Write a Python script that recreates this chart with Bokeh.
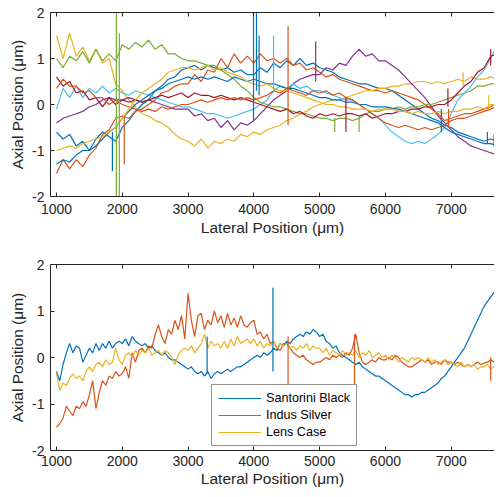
from bokeh.plotting import figure
from bokeh.models import Range1d, LinearAxis, FixedTicker, Legend, LegendItem
from bokeh.layouts import column
from bokeh.embed import file_html
from bokeh.resources import INLINE

# ---------------- data ----------------
X_TICKS = [1000, 2000, 3000, 4000, 5000, 6000, 7000]
Y_TICKS = [-2, -1, 0, 1, 2]
Y_TICK_LABELS = {-2: "-2", -1: "-1", 0: "0", 1: "1", 2: "2"}

X_TOP = list(range(1000, 7801, 100))

TOP_BLUE_1 = [
    -0.6, -0.75, -0.65, -0.9, -0.8, -1.0, -0.75, -0.6, -0.7, -0.8,
    -0.5, -0.35, -0.15, 0.0, 0.1, 0.3, 0.4, 0.55, 0.6, 0.75,
    0.8, 0.85, 0.75, 0.85, 0.8, 0.75, 0.8, 0.7, 0.75, 0.65,
    0.65, 0.8, 0.7, 0.9, 0.8, 0.95, 0.85, 1.0, 0.85, 0.9,
    0.8, 0.75, 0.7, 0.6, 0.55, 0.5, 0.45, 0.45, 0.4, 0.35,
    0.35, 0.3, 0.2, 0.1, 0.0, -0.1, -0.2, -0.3, -0.35, -0.45,
    -0.5, -0.6, -0.65, -0.7, -0.75, -0.8, -0.75, -0.8, -0.8]
TOP_ORANGE_1 = [
    -1.5, -1.2, -1.4, -1.2, -1.35, -1.1, -0.95, -0.65, -0.55, -0.3,
    -0.25, -0.3, -0.15, -0.1, 0.0, 0.1, 0.25, 0.3, 0.4, 0.45,
    0.45, 0.65, 0.5, 0.75, 0.7, 1.0, 0.8, 1.1, 0.9, 1.05,
    0.9, 1.1, 0.95, 1.0, 0.9, 1.0, 0.85, 0.9, 0.75, 0.8,
    0.7, 0.6, 0.65, 0.55, 0.5, 0.45, 0.4, 0.35, 0.3, 0.3,
    0.25, 0.3, 0.25, 0.2, 0.15, 0.1, 0.0, -0.1, -0.2, -0.35,
    -0.3, -0.25, -0.2, -0.2, -0.15, -0.1, -0.05, 0.05, 0.1]
TOP_YELLOW_1 = [
    1.5, 1.0, 1.55, 1.05, 1.25, 0.95, 1.2, 0.9, 1.0, 0.45,
    0.3, 0.1, -0.05, -0.2, -0.25, -0.35, -0.4, -0.5, -0.65, -0.75,
    -0.8, -0.9, -0.75, -0.95, -0.8, -0.85, -0.75, -0.8, -0.65, -0.7,
    -0.6, -0.65, -0.55, -0.5, -0.45, -0.35, -0.3, -0.2, -0.15, -0.05,
    0.0, 0.05, 0.1, 0.1, 0.15, 0.2, 0.25, 0.3, 0.3, 0.35,
    0.35, 0.4, 0.4, 0.45, 0.45, 0.5, 0.5, 0.45, 0.5, 0.45,
    0.5, 0.55, 0.5, 0.6, 0.55, 0.55, 0.6, 0.55, 0.6]
TOP_PURPLE = [
    -0.4, -0.3, -0.25, -0.2, -0.15, -0.05, 0.0, 0.1, 0.15, 0.1,
    0.1, 0.15, 0.1, 0.05, 0.1, 0.05, 0.0, -0.05, -0.1, -0.1,
    -0.1, -0.25, -0.2, -0.35, -0.3, -0.5, -0.35, -0.55, -0.4, -0.45,
    -0.35, -0.2, -0.05, 0.1, 0.2, 0.3, 0.45, 0.55, 0.6, 0.65,
    0.65, 0.8, 0.75, 0.9, 0.85, 1.05, 1.2, 1.05, 1.1, 0.95,
    0.95, 0.85, 0.75, 0.6, 0.45, 0.3, 0.15, -0.05, -0.25, -0.4,
    -0.55, -0.7, -0.8, -0.9, -0.95, -1.0, -1.05, -1.1, -1.1]
TOP_GREEN = [
    1.0, 0.8, 1.05, 0.95, 1.15, 0.9, 1.2, 0.95, 1.1, 0.95,
    1.3, 1.2, 1.35, 1.25, 1.4, 1.2, 1.3, 1.1, 1.1, 1.0,
    0.95, 0.95, 0.9, 0.85, 0.85, 0.75, 0.65, 0.55, 0.4, 0.3,
    0.15, 0.05, 0.0, -0.05, -0.05, -0.1, -0.15, -0.2, -0.2, -0.25,
    -0.3, -0.3, -0.35, -0.3, -0.3, -0.35, -0.3, -0.2, -0.15, -0.15,
    -0.1, -0.1, -0.05, -0.1, -0.05, -0.05, 0.0, 0.0, 0.05, 0.1,
    0.15, 0.2, 0.25, 0.3, 0.4, 0.4, 0.45, 0.45, 0.5]
TOP_LIGHTBLUE = [
    -0.1, 0.35, 0.15, 0.4, 0.15, 0.35, 0.25, 0.4, 0.25, 0.35,
    0.25, 0.2, 0.3, 0.25, 0.2, 0.15, 0.1, 0.05, 0.0, -0.05,
    -0.05, -0.1, -0.15, -0.2, -0.2, -0.25, -0.3, -0.25, -0.2, -0.15,
    -0.1, 0.0, 0.1, 0.3, 0.4, 0.35, 0.45, 0.35, 0.4, 0.3,
    0.3, 0.25, 0.2, 0.15, 0.1, 0.1, 0.0, -0.1, -0.2, -0.3,
    -0.45, -0.6, -0.7, -0.8, -0.85, -0.8, -0.85, -0.75, -0.65, -0.5,
    -0.2, 0.1, 0.25, 0.4, 0.6, 0.75, 1.0, 1.3, 1.6]
TOP_DARKRED = [
    0.6, 0.4, 0.5, 0.25, 0.3, 0.1, 0.15, -0.05, 0.15, 0.0,
    0.1, 0.05, 0.1, 0.05, 0.1, 0.15, 0.2, 0.15, 0.2, 0.25,
    0.15, 0.25, 0.2, 0.2, 0.15, 0.2, 0.15, 0.1, 0.15, 0.1,
    0.05, 0.0, -0.05, -0.1, -0.15, -0.1, -0.2, -0.15, -0.25, -0.3,
    -0.2, -0.25, -0.2, -0.25, -0.2, -0.2, -0.25, -0.2, -0.3, -0.25,
    -0.2, -0.2, -0.15, -0.15, -0.1, -0.1, -0.05, -0.05, 0.0, 0.0,
    0.1, 0.25, 0.4, 0.5, 0.7, 0.8, 1.05, 1.1, 1.1]
TOP_BLUE_2 = [
    -1.3, -1.2, -1.25, -1.1, -1.0, -1.0, -0.9, -0.75, -0.6, -0.5,
    -0.3, -0.15, 0.0, 0.1, 0.2, 0.3, 0.35, 0.45, 0.5, 0.55,
    0.6, 0.55, 0.6, 0.55, 0.6, 0.55, 0.5, 0.6, 0.55, 0.5,
    0.55, 0.5, 0.45, 0.45, 0.4, 0.35, 0.35, 0.3, 0.25, 0.2,
    0.15, 0.15, 0.1, 0.1, 0.05, 0.05, 0.0, 0.0, -0.05, -0.05,
    -0.05, -0.08, -0.1, -0.15, -0.2, -0.25, -0.3, -0.35, -0.4, -0.5,
    -0.6, -0.65, -0.7, -0.75, -0.8, -0.85, -0.85, -0.9, -0.9]
TOP_ORANGE_2 = [
    0.35, 0.55, 0.4, 0.4, 0.25, 0.3, 0.15, 0.15, 0.0, 0.1,
    0.0, -0.05, -0.1, -0.15, -0.1, -0.15, -0.05, -0.1, -0.05, 0.0,
    0.0, 0.05, 0.1, 0.05, 0.1, 0.15, 0.1, 0.15, 0.1, 0.15,
    0.1, 0.15, 0.2, 0.3, 0.25, 0.35, 0.3, 0.25, 0.2, 0.3,
    0.25, 0.3, 0.2, 0.25, 0.15, 0.1, 0.0, -0.1, -0.2, -0.3,
    -0.4, -0.45, -0.5, -0.45, -0.5, -0.55, -0.5, -0.55, -0.5, -0.45,
    -0.35, -0.3, -0.3, -0.25, -0.2, -0.15, -0.1, -0.05, -0.05]
TOP_YELLOW_2 = [
    -1.0, -0.95, -0.9, -0.95, -0.85, -0.8, -0.75, -0.7, -0.6, -0.5,
    -0.3, -0.1, 0.1, 0.25, 0.35, 0.45, 0.55, 0.7, 0.75, 0.8,
    0.8, 0.75, 0.8, 0.85, 0.75, 0.8, 0.7, 0.65, 0.6, 0.5,
    0.45, 0.4, 0.45, 0.35, 0.3, 0.3, 0.25, 0.2, 0.15, 0.1,
    0.05, 0.0, 0.0, -0.05, -0.05, -0.1, -0.1, -0.1, -0.15, -0.1,
    -0.1, -0.1, -0.15, -0.15, -0.2, -0.15, -0.2, -0.2, -0.15, -0.2,
    -0.15, -0.15, -0.1, -0.1, -0.05, -0.1, 0.0, 0.0, 0.05]

TOP_SERIES = ["blue1", "orange1", "yellow1", "purple", "green",
              "lightblue", "darkred", "blue2", "orange2", "yellow2"]
TOP_VALUES = [TOP_BLUE_1, TOP_ORANGE_1, TOP_YELLOW_1, TOP_PURPLE, TOP_GREEN,
              TOP_LIGHTBLUE, TOP_DARKRED, TOP_BLUE_2, TOP_ORANGE_2, TOP_YELLOW_2]

# isolated spikes (x, from, to, series)
TOP_SPIKE_X = [1850, 1910, 1955, 2030, 3995, 4040, 4080, 4300, 4520, 4940,
               5230, 5400, 5600, 6850, 6950, 6960, 7180, 7570, 7600, 7550, 7650]
TOP_SPIKE_Y0 = [-0.6, -2.1, -2.1, -0.25, -0.35, 0.3, 0.2, 0.25, -0.45, 0.5,
                -0.3, -0.6, -0.25, -0.1, -0.05, -0.1, 0.4, -0.1, 0.85, -0.85, -0.9]
TOP_SPIKE_Y1 = [-1.45, 2.1, 1.55, -1.3, 2.1, 2.1, 1.5, 1.5, 1.7, 1.37,
                -0.6, 0.15, -0.6, -0.6, 0.35, -0.5, 0.7, 0.2, 1.2, -0.6, -0.65]
TOP_SPIKE_SERIES = ["blue1", "green", "green", "orange1", "blue1", "blue1", "blue1",
                    "lightblue", "orange1", "purple", "green", "darkred", "green",
                    "blue2", "darkred", "orange2", "yellow1", "yellow2", "darkred",
                    "blue1", "blue2"]

X_BOT = list(range(1000, 7801, 50))
BOT_NAMES = ["Santorini Black", "Indus Silver", "Lens Case"]
SANTORINI_BLACK = [
    -0.3, -0.5, -0.15, 0.1, 0.3, 0.1, 0.25, 0.2, -0.1, 0.05,
    0.2, 0.1, 0.3, 0.15, 0.3, 0.2, 0.35, 0.2, 0.3, 0.35,
    0.3, 0.4, 0.25, 0.45, 0.35, 0.3, 0.25, 0.3, 0.2, 0.25,
    0.15, 0.1, 0.05, 0.1, 0.0, -0.05, -0.05, -0.1, -0.15, -0.2,
    -0.25, -0.2, -0.3, -0.35, -0.3, -0.4, -0.3, -0.45, -0.35, -0.3,
    -0.35, -0.3, -0.25, -0.3, -0.25, -0.2, -0.2, -0.15, -0.1, -0.05,
    0.0, 0.05, 0.0, 0.1, 0.05, 0.1, 0.2, 0.15, 0.3, 0.25,
    0.35, 0.3, 0.4, 0.45, 0.5, 0.45, 0.55, 0.5, 0.6, 0.55,
    0.45, 0.5, 0.35, 0.3, 0.2, 0.25, 0.1, 0.05, 0.0, -0.05,
    -0.1, -0.15, -0.1, -0.2, -0.25, -0.3, -0.35, -0.4, -0.4, -0.45,
    -0.5, -0.55, -0.6, -0.65, -0.7, -0.75, -0.8, -0.8, -0.85, -0.8,
    -0.8, -0.75, -0.75, -0.7, -0.65, -0.6, -0.55, -0.45, -0.4, -0.3,
    -0.2, -0.1, 0.0, 0.1, 0.2, 0.35, 0.5, 0.65, 0.8, 0.95,
    1.1, 1.2, 1.3, 1.4, 1.47, 1.55, 1.6]
INDUS_SILVER = [
    -1.5, -1.42, -1.3, -1.05, -1.15, -1.25, -1.05, -1.1, -0.95, -1.05,
    -0.8, -0.5, -1.1, -0.75, -0.5, -0.6, -0.4, -0.45, -0.3, -0.4,
    -0.35, -0.2, -0.45, 0.1, -0.1, 0.15, 0.2, 0.1, 0.25, 0.2,
    0.5, 0.7, 0.45, 0.3, 0.6, 0.5, 0.8, 0.6, 0.9, 0.4,
    1.38, 0.8, 0.45, 0.9, 0.95, 0.6, 0.8, 0.7, 1.0, 0.75,
    0.9, 0.65, 0.95, 0.7, 0.85, 0.65, 0.9, 0.7, 0.65, 0.75,
    0.8, 0.5, 0.55, 0.4, 0.5, 0.3, 0.35, 0.2, 0.15, 0.3,
    0.3, 0.2, 0.1, 0.05, 0.0, 0.05, -0.05, -0.1, -0.15, -0.1,
    -0.1, -0.05, 0.0, -0.05, 0.05, 0.0, 0.05, 0.0, 0.1, 0.05,
    0.2, 0.5, 0.1, -0.1, -0.15, -0.1, -0.05, -0.1, 0.0, -0.05,
    -0.05, 0.0, -0.05, 0.05, 0.0, -0.1, -0.15, -0.2, -0.2, -0.15,
    -0.1, -0.05, -0.1, -0.05, -0.15, -0.1, -0.1, -0.15, -0.05, -0.1,
    -0.1, -0.15, -0.1, -0.15, -0.2, -0.15, -0.2, -0.15, -0.1, -0.15,
    -0.12, -0.1, -0.05, -0.1, -0.05, -0.1, -0.05]
LENS_CASE = [
    -0.35, -0.7, -0.55, -0.6, -0.45, -0.35, -0.45, -0.4, -0.5, -0.3,
    -0.2, -0.3, -0.15, -0.1, -0.2, -0.05, -0.15, -0.1, 0.2, -0.05,
    -0.15, 0.05, 0.1, 0.0, 0.15, 0.05, 0.15, 0.1, 0.2, 0.05,
    0.1, 0.15, 0.05, 0.15, 0.1, 0.0, -0.15, 0.05, 0.15, 0.2,
    0.15, 0.25, 0.1, 0.2, 0.3, 0.5, 0.2, 0.35, 0.25, 0.3,
    0.2, 0.35, 0.2, 0.4, 0.25, 0.45, 0.3, 0.35, 0.4, 0.3,
    0.4, 0.25, 0.35, 0.2, 0.3, 0.25, 0.35, 0.2, 0.3, 0.25,
    0.3, 0.2, 0.25, 0.15, 0.25, 0.2, 0.3, 0.15, 0.25, 0.2,
    0.2, 0.1, 0.2, 0.05, 0.15, 0.1, 0.05, 0.15, 0.05, 0.1,
    0.05, 0.15, 0.0, 0.1, 0.05, 0.15, 0.0, 0.05, 0.1, 0.0,
    0.05, -0.05, 0.05, 0.0, -0.1, 0.0, -0.05, -0.1, 0.0, -0.05,
    0.0, -0.05, -0.1, 0.0, -0.1, -0.05, -0.15, -0.1, -0.05, -0.15,
    -0.1, -0.15, -0.2, -0.1, -0.2, -0.15, -0.2, -0.15, -0.25, -0.2,
    -0.2, -0.15, -0.25, -0.2, -0.2, -0.15, -0.2]
BOT_VALUES = [SANTORINI_BLACK, INDUS_SILVER, LENS_CASE]

BOT_SPIKE_X = [3290, 4290, 4520, 5530, 7600]
BOT_SPIKE_Y0 = [-0.35, -0.3, 0.45, 0.5, 0.0]
BOT_SPIKE_Y1 = [0.45, 1.5, -0.63, -0.7, -0.5]
BOT_SPIKE_SERIES = ["Santorini Black", "Santorini Black", "Indus Silver",
                    "Indus Silver", "Indus Silver"]

for s in TOP_VALUES:
    assert len(s) == len(X_TOP), len(s)
for s in BOT_VALUES:
    assert len(s) == len(X_BOT), len(s)

# ---------------- style ----------------
C_BLUE, C_ORANGE, C_YELLOW = "#0072BD", "#D95319", "#EDB120"
C_PURPLE, C_GREEN, C_LBLUE, C_DRED = "#7E2F8E", "#77AC30", "#4DBEEE", "#A2142F"
TOP_COLORS = {"blue1": C_BLUE, "orange1": C_ORANGE, "yellow1": C_YELLOW,
              "purple": C_PURPLE, "green": C_GREEN, "lightblue": C_LBLUE,
              "darkred": C_DRED, "blue2": C_BLUE, "orange2": C_ORANGE,
              "yellow2": C_YELLOW}
BOT_COLORS = {"Santorini Black": C_BLUE, "Indus Silver": C_ORANGE,
              "Lens Case": C_YELLOW}
FONT = "Liberation Sans"
AX = "#262626"
LW = 1.2


def make_fig(height, border_top, border_bottom, tick_standoff, title_standoff):
    p = figure(width=494, height=height, output_backend="svg", toolbar_location=None,
               x_range=Range1d(909, 7658), y_range=Range1d(-2, 2),
               min_border_left=50, min_border_right=0,
               min_border_top=border_top, min_border_bottom=border_bottom)
    p.outline_line_color = None
    p.background_fill_color = "white"
    for g in p.grid:
        g.visible = False
    for ax in [p.xaxis[0], p.yaxis[0]]:
        ax.axis_line_color = AX
        ax.major_tick_line_color = AX
        ax.major_tick_in = 4
        ax.major_tick_out = 0
        ax.minor_tick_line_color = None
        ax.major_label_text_font = FONT
        ax.major_label_text_font_size = "14px"
        ax.major_label_text_color = AX
        ax.axis_label_text_font = FONT
        ax.axis_label_text_font_size = "15.5px"
        ax.axis_label_text_font_style = "normal"
        ax.axis_label_text_color = AX
    p.xaxis.ticker = FixedTicker(ticks=X_TICKS)
    p.yaxis.ticker = FixedTicker(ticks=Y_TICKS)
    p.yaxis.major_label_overrides = Y_TICK_LABELS
    p.xaxis.axis_label = "Lateral Position (μm)"
    p.yaxis.axis_label = "Axial Position (μm)"
    p.xaxis.major_label_standoff = tick_standoff
    p.xaxis.axis_label_standoff = title_standoff
    p.yaxis.major_label_standoff = 6
    p.yaxis.axis_label_standoff = 3
    top = LinearAxis(ticker=FixedTicker(ticks=X_TICKS), major_label_text_font_size="1px",
                     major_label_text_color=None,
                     major_tick_in=4, major_tick_out=0, minor_tick_line_color=None,
                     axis_line_color=AX, major_tick_line_color=AX, major_label_standoff=0)
    p.add_layout(top, "above")
    return p


p1 = make_fig(238, 12, 42, 7, 2)
for name, vals in zip(TOP_SERIES, TOP_VALUES):
    p1.line(X_TOP, vals, line_color=TOP_COLORS[name], line_width=LW)
p1.segment(x0=TOP_SPIKE_X, y0=TOP_SPIKE_Y0, x1=TOP_SPIKE_X, y1=TOP_SPIKE_Y1,
           line_color=[TOP_COLORS[s] for s in TOP_SPIKE_SERIES], line_width=LW)

p2 = make_fig(251, 26, 39, 5, 1)
items = []
for name, vals in zip(BOT_NAMES, BOT_VALUES):
    r = p2.line(X_BOT, vals, line_color=BOT_COLORS[name], line_width=LW)
    items.append(LegendItem(label=name, renderers=[r]))
p2.segment(x0=BOT_SPIKE_X, y0=BOT_SPIKE_Y0, x1=BOT_SPIKE_X, y1=BOT_SPIKE_Y1,
           line_color=[BOT_COLORS[s] for s in BOT_SPIKE_SERIES], line_width=LW)

legend = Legend(items=items, location=(161, 4), margin=0, padding=6,
                border_line_color=AX, border_line_width=1,
                background_fill_color="white", background_fill_alpha=1.0,
                label_text_font=FONT, label_text_font_size="12.6px",
                label_text_color="#000000", glyph_width=43, glyph_height=14,
                label_height=14, label_standoff=5, spacing=3)
p2.add_layout(legend, "center")

layout = column(p1, p2, spacing=0)
open("out.html", "w").write(file_html(layout, INLINE))
